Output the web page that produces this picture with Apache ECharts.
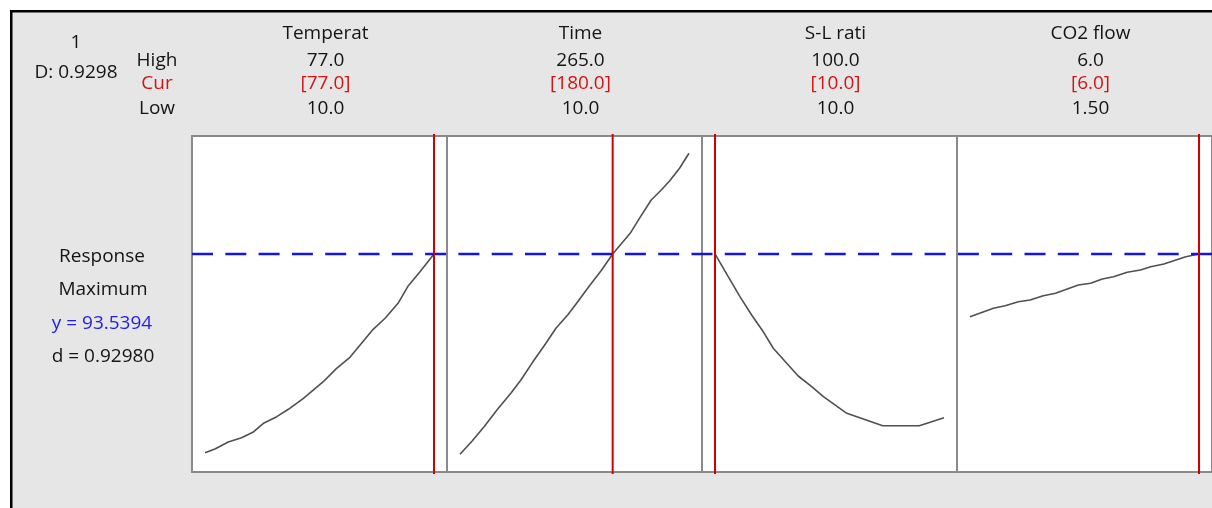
<!DOCTYPE html>
<html>
<head>
<meta charset="utf-8">
<script src="https://cdn.jsdelivr.net/npm/echarts@6/dist/echarts.min.js"></script>
<style>
html,body{margin:0;padding:0;background:#fff;}
#chart{width:1212px;height:508px;}
</style>
</head>
<body>
<div id="chart"></div>
<script>
// ---- data ----
const factors = ['Temperat', 'Time', 'S-L rati', 'CO2 flow'];
const lowVals = [10, 10, 10, 1.5];
const highVals = [77, 265, 100, 6];
const curVals = [77, 180, 10, 6];
const highLabels = ['77.0', '265.0', '100.0', '6.0'];
const curLabels = ['[77.0]', '[180.0]', '[10.0]', '[6.0]'];
const lowLabels = ['10.0', '10.0', '10.0', '1.50'];

const tempX = [10, 12.9, 16.8, 20.7, 24.0, 27.1, 31.0, 34.4, 38.8, 44.6, 48.5, 52.4, 55.8, 59.2, 62.7, 66.6, 69.5, 72.9, 77];
const tempY = [60.42, 61.03, 62.2, 62.92, 63.82, 65.32, 66.42, 67.65, 69.48, 72.25, 74.48, 76.32, 78.65, 80.98, 82.82, 85.42, 88.25, 90.58, 93.54];

const timeX = [10, 23.8, 36.8, 51.8, 66.6, 77.8, 90.8, 105.7, 116.8, 129.9, 141.1, 154, 167.1, 180, 199.5, 209.8, 222.9, 234.1, 243.3, 254.5, 265];
const timeY = [60.15, 62.42, 64.75, 67.65, 70.32, 72.53, 75.48, 78.65, 81.15, 83.37, 85.58, 88.2, 90.75, 93.54, 96.98, 99.48, 102.53, 104.2, 105.7, 107.82, 110.32];

const slX = [10, 15.2, 19.8, 24.4, 28.7, 32.9, 38.2, 42.7, 48, 52.6, 61.8, 75.9, 90.3, 100];
const slY = [93.54, 89.75, 86.42, 83.37, 80.75, 77.82, 75.32, 73.2, 71.42, 69.75, 66.98, 64.92, 64.92, 66.25];

const co2X = [1.5, 1.96, 2.19, 2.45, 2.68, 2.94, 3.18, 3.63, 3.87, 4.10, 4.32, 4.59, 4.85, 5.05, 5.31, 5.74, 6.0];
const co2Y = [83.08, 84.48, 84.92, 85.58, 85.87, 86.58, 86.98, 88.37, 88.65, 89.37, 89.75, 90.48, 90.87, 91.42, 91.87, 93.08, 93.54];

const curveX = [tempX, timeX, slX, co2X];
const curveY = [tempY, timeY, slY, co2Y];

const responseName = 'Response';
const goal = 'Maximum';
const yPredicted = 93.5394;
const yLabel = 'y = 93.5394';
const dLabel = 'd = 0.92980';
const optLabel = '1';
const compositeD = 'D: 0.9298';

// y scale (response units)
const yMin = 57.2, yMax = 113.2;

// ---- layout ----
const panelLeft0 = 192, panelW = 255, panelTop = 136, panelH = 336;
const padFrac = 13 / 229;
const FONT = '"Open Sans", "Noto Sans", sans-serif';
const FS = 19;
const TY = 1.5; // text vertical nudge
const BLACK = '#141414', RED = '#d21414', BLUE = '#1e1ee6';
const DASH = [21, 12.3];

const chart = echarts.init(document.getElementById('chart'), null, {renderer: 'canvas'});

const grids = [], xAxes = [], yAxes = [], series = [];
const yExt = (yMax - yMin) * 2 / panelH;

factors.forEach((f, i) => {
  const lo = lowVals[i], hi = highVals[i];
  const pad = (hi - lo) * padFrac;
  const xmin = lo - pad, xmax = hi + pad;
  grids.push({
    left: panelLeft0 + i * panelW, top: panelTop, width: panelW, height: panelH,
    show: true, backgroundColor: '#ffffff', borderColor: '#8a8a8a', borderWidth: 2
  });
  xAxes.push({type: 'value', gridIndex: i, min: xmin, max: xmax, show: false});
  yAxes.push({type: 'value', gridIndex: i, min: yMin, max: yMax, show: false});
  series.push({
    type: 'line', xAxisIndex: i, yAxisIndex: i, showSymbol: false, silent: true,
    data: curveX[i].map((x, k) => [x, curveY[i][k]]),
    lineStyle: {color: '#505050', width: 1.6}, z: 3
  });
  // blue dashed response line (continuous dash phase across panels)
  series.push({
    type: 'line', xAxisIndex: i, yAxisIndex: i, showSymbol: false, silent: true, clip: false,
    data: [[xmin, yPredicted], [xmax, yPredicted]],
    lineStyle: {color: '#1414e6', width: 2.4, type: DASH, dashOffset: i * panelW}, z: 4
  });
  // red current-setting line
  series.push({
    type: 'line', xAxisIndex: i, yAxisIndex: i, showSymbol: false, silent: true, clip: false,
    data: [[curVals[i], yMax + yExt], [curVals[i], yMin - yExt]],
    lineStyle: {color: '#d40000', width: 2}, z: 5
  });
});

function txt(text, x, y, color) {
  return {
    type: 'text', x: x, y: y + TY, silent: true,
    style: {text: text, fill: color || BLACK, font: FS + 'px ' + FONT,
            align: 'center', verticalAlign: 'middle', textAlign: 'center', textVerticalAlign: 'middle'}
  };
}

const graphics = [
  {type: 'rect', shape: {x: 0, y: 0, width: 1212, height: 10}, style: {fill: '#ffffff'}, silent: true},
  {type: 'rect', shape: {x: 0, y: 0, width: 10, height: 508}, style: {fill: '#ffffff'}, silent: true},
  {type: 'rect', shape: {x: 10, y: 10, width: 1202, height: 2.5}, style: {fill: '#000000'}, silent: true},
  {type: 'rect', shape: {x: 10, y: 10, width: 2.5, height: 498}, style: {fill: '#000000'}, silent: true},
  txt(optLabel, 76, 41),
  txt(compositeD, 76, 71),
  txt('High', 157, 59),
  txt('Cur', 157, 82, RED),
  txt('Low', 157, 107),
  txt(responseName, 102, 255),
  txt(goal, 103, 288),
  txt(yLabel, 102, 322, BLUE),
  txt(dLabel, 103, 355)
];
factors.forEach((f, i) => {
  const cx = panelLeft0 + i * panelW + panelW / 2 + 6;
  graphics.push(txt(f, cx, 32));
  graphics.push(txt(highLabels[i], cx, 59));
  graphics.push(txt(curLabels[i], cx, 82, RED));
  graphics.push(txt(lowLabels[i], cx, 107));
});

chart.setOption({
  backgroundColor: '#e6e6e6',
  animation: false,
  grid: grids,
  xAxis: xAxes,
  yAxis: yAxes,
  series: series,
  graphic: {elements: graphics}
});
</script>
</body>
</html>
